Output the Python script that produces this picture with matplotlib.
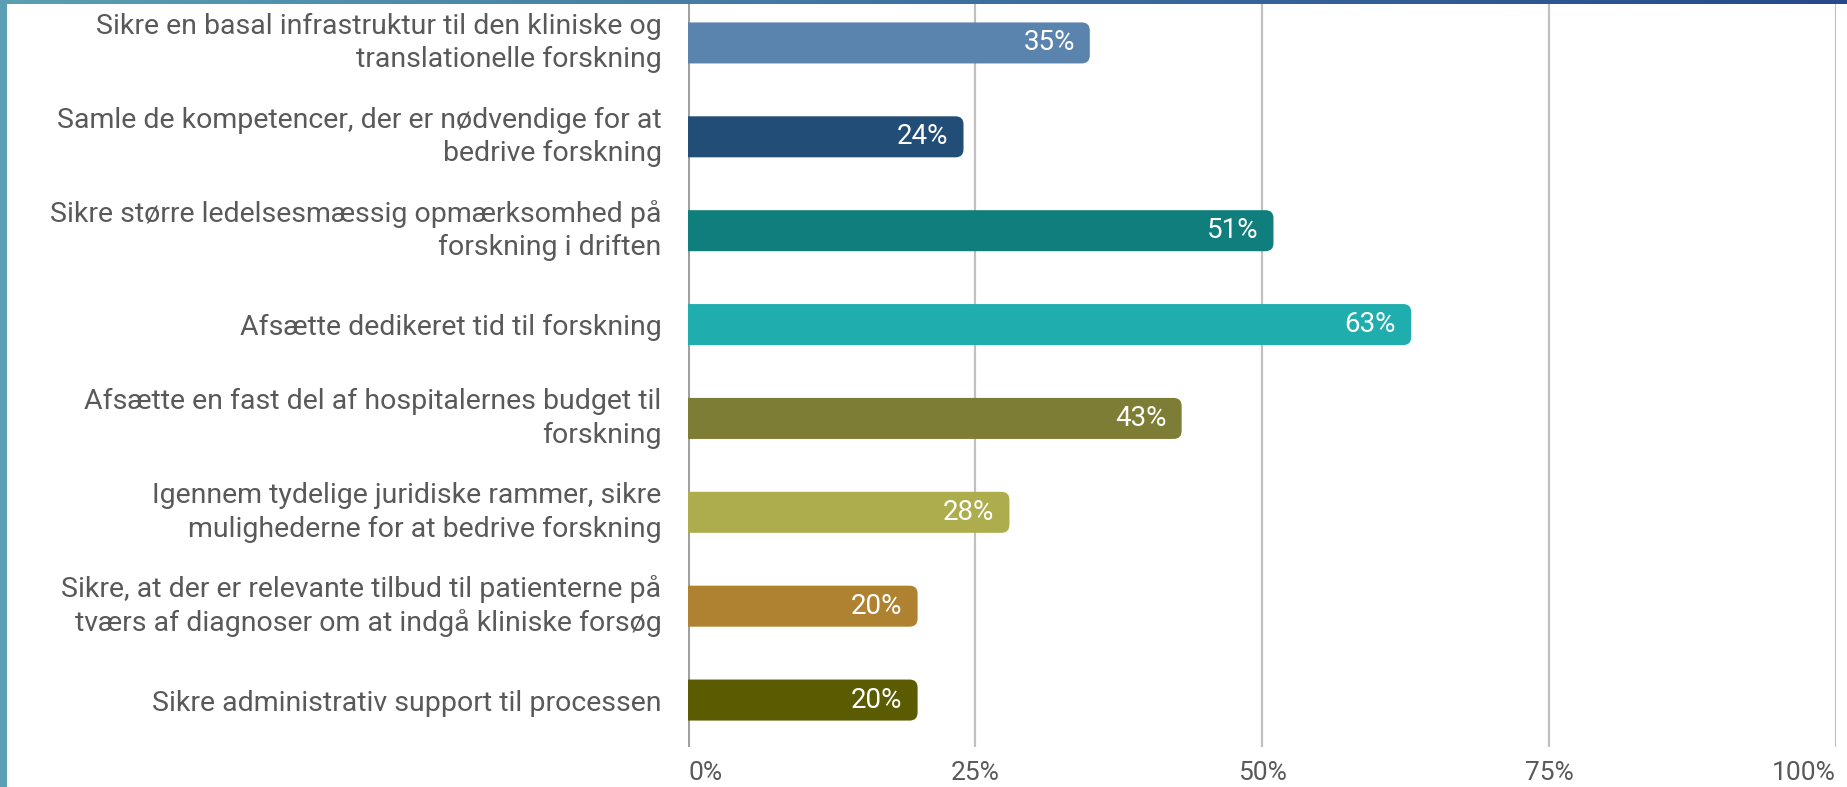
import numpy as np
import matplotlib.pyplot as plt
from matplotlib.patches import FancyBboxPatch, Rectangle
from matplotlib.colors import LinearSegmentedColormap

labels = [
    'Sikre en basal infrastruktur til den kliniske og\ntranslationelle forskning',
    'Samle de kompetencer, der er nødvendige for at\nbedrive forskning',
    'Sikre større ledelsesmæssig opmærksomhed på\nforskning i driften',
    'Afsætte dedikeret tid til forskning',
    'Afsætte en fast del af hospitalernes budget til\nforskning',
    'Igennem tydelige juridiske rammer, sikre\nmulighederne for at bedrive forskning',
    'Sikre, at der er relevante tilbud til patienterne på\ntværs af diagnoser om at indgå kliniske forsøg',
    'Sikre administrativ support til processen',
]
values = [35, 24, 51, 63, 43, 28, 20, 20]
colors = ['#5A83AD', '#224D77', '#0F7E7C', '#20ADAD',
          '#7E7D35', '#AEAD4E', '#AE8230', '#5B5C02']
ticks = [0, 25, 50, 75, 100]
tick_labels = ['0%', '25%', '50%', '75%', '100%']

plt.rcParams['font.family'] = ['Roboto', 'DejaVu Sans']

W, H = 1847, 787
fig = plt.figure(figsize=(W / 100, H / 100), dpi=100)
ax = fig.add_axes([688 / W, 40 / H, 1148 / W, 751 / H])

# rounded right ends, left side hidden by clipping at 0
bar_h = 0.437
for i, (v, c) in enumerate(zip(values, colors)):
    ax.add_patch(FancyBboxPatch((-3, i - bar_h / 2), v + 3, bar_h,
                                boxstyle='round,pad=0,rounding_size=0.7',
                                mutation_aspect=0.1223, fc=c, ec='none', zorder=3))
    ax.annotate(f'{v}%', xy=(v, i), xytext=(-15, 0), textcoords='offset pixels',
                ha='right', va='center', color='white', fontsize=20, zorder=4)

ax.set_xlim(0, 100)
ax.set_ylim(len(values) - 0.5, -0.5)
ax.set_xticks(ticks)
ax.set_xticklabels(tick_labels)
ax.set_yticks(range(len(labels)))
ax.set_yticklabels(labels, linespacing=1.3)
for t in ax.get_yticklabels():
    if '\n' in t.get_text():
        t.set_va('center')
ax.tick_params(axis='both', length=0, labelcolor='#595959')
ax.tick_params(axis='y', pad=19, labelsize=20.5)
ax.tick_params(axis='x', pad=10, labelsize=19)
xt = ax.get_xticklabels()
xt[0].set_ha('left')
xt[-1].set_ha('right')
ax.grid(axis='x', color='#C0C0C0', lw=1.6)
ax.axvline(0, color='#A0A0A0', lw=2.2, zorder=2)
ax.set_axisbelow(True)
for s in ax.spines.values():
    s.set_visible(False)

# slide frame: teal strip left, gradient strip on top
fig.patches.append(Rectangle((0, 0), 7 / W, 1, transform=fig.transFigure,
                             fc='#5A9FB2', ec='none'))
top = fig.add_axes([0, 1 - 4 / H, 1, 4 / H])
cmap = LinearSegmentedColormap.from_list('frame', ['#5A9FB2', '#3F72A0', '#264A8C'])
top.imshow(np.linspace(0, 1, 256)[None, :], aspect='auto', cmap=cmap)
top.axis('off')

fig.savefig('out.png', dpi=100)
